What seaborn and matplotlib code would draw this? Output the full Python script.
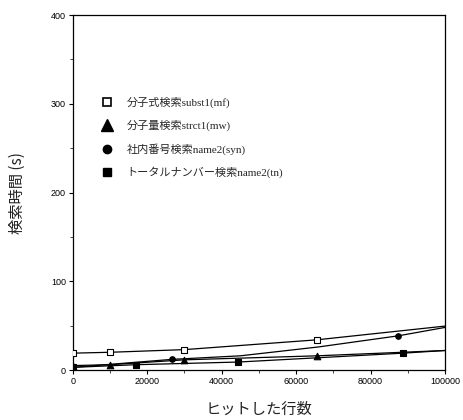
import numpy as np
import pandas as pd
import matplotlib
matplotlib.use("Agg")
import matplotlib.pyplot as plt
from matplotlib.lines import Line2D
from matplotlib.ticker import MultipleLocator
import seaborn as sns

# Search time vs. number of hit rows for four search methods
labels = ["分子式検索subst1(mf)", "分子量検索strct1(mw)",
          "社内番号検索name2(syn)", "トータルナンバー検索name2(tn)"]

hits_mf = [0, 10000, 30000, 65500, 100000]
time_mf = [19, 20, 23, 34, 49.5]
mark_mf = [1, 1, 1, 1, 0]

hits_mw = [0, 10000, 30000, 65600, 100000]
time_mw = [5, 6, 11.5, 16, 22]
mark_mw = [1, 1, 1, 1, 0]

hits_syn = [0, 26600, 45000, 66000, 87400, 100000]
time_syn = [3, 12, 16, 26, 38.5, 48]
mark_syn = [1, 1, 0, 0, 1, 0]

hits_tn = [0, 17000, 44500, 88700, 100000]
time_tn = [3, 6, 9, 19, 22]
mark_tn = [1, 1, 1, 1, 0]

x_ticks = [0, 20000, 40000, 60000, 80000, 100000]
y_ticks = [0, 100, 200, 300, 400]

frames = []
for name, h, t, m in zip(labels,
                         [hits_mf, hits_mw, hits_syn, hits_tn],
                         [time_mf, time_mw, time_syn, time_tn],
                         [mark_mf, mark_mw, mark_syn, mark_tn]):
    frames.append(pd.DataFrame({"series": name, "hits": h, "time": t,
                                "marked": m}))
df = pd.concat(frames, ignore_index=True)

sns.set_theme(style="ticks")
plt.rcParams["font.family"] = ["Liberation Sans", "Noto Sans CJK JP"]

fig = plt.figure(figsize=(4.64, 4.2), dpi=100)
ax = fig.add_axes([0.157, 0.119, 0.802, 0.845])

sns.lineplot(data=df, x="hits", y="time", hue="series",
             palette=["black"] * 4, estimator=None, sort=False,
             legend=False, linewidth=0.9, ax=ax)

marker_style = {
    labels[0]: dict(marker="s", facecolor="white", size=22),
    labels[1]: dict(marker="^", facecolor="black", size=22),
    labels[2]: dict(marker="o", facecolor="black", size=16),
    labels[3]: dict(marker="s", facecolor="black", size=16),
}
for name, st in marker_style.items():
    sub = df[(df["series"] == name) & (df["marked"] == 1)]
    sns.scatterplot(data=sub, x="hits", y="time", marker=st["marker"],
                    s=st["size"], color=st["facecolor"], edgecolor="black",
                    linewidth=0.8, legend=False, ax=ax, zorder=3)

ax.set_xlim(0, 100000)
ax.set_ylim(0, 400)
ax.set_xticks(x_ticks)
ax.set_yticks(y_ticks)
ax.xaxis.set_minor_locator(MultipleLocator(10000))
ax.yaxis.set_minor_locator(MultipleLocator(50))
ax.tick_params(axis="both", which="major", direction="out", length=3,
               width=0.8, labelsize=6.5, colors="black", pad=2)
ax.tick_params(axis="both", which="minor", direction="out", length=2,
               width=0.6)
for sp in ax.spines.values():
    sp.set_visible(True)
    sp.set_linewidth(0.9)
    sp.set_color("black")

ax.set_xlabel("ヒットした行数", fontsize=11, color="#222222",
              family=["Noto Sans CJK JP"], labelpad=11)
ax.set_ylabel("検索時間 (s)", fontsize=11, color="#222222",
              family=["Noto Sans CJK JP"], labelpad=18)

handles = [
    Line2D([], [], linestyle="none", marker="s", markersize=6,
           markerfacecolor="white", markeredgecolor="black",
           markeredgewidth=1.2),
    Line2D([], [], linestyle="none", marker="^", markersize=8,
           color="black"),
    Line2D([], [], linestyle="none", marker="o", markersize=6,
           color="black"),
    Line2D([], [], linestyle="none", marker="s", markersize=6,
           color="black"),
]
ax.legend(handles, labels, loc="upper left", bbox_to_anchor=(0.035, 0.797),
          frameon=False, handletextpad=0.75, labelspacing=1.05,
          prop={"family": ["Liberation Serif", "Noto Sans CJK JP"],
                "size": 8})

fig.savefig("out.png", dpi=100, facecolor="white")
